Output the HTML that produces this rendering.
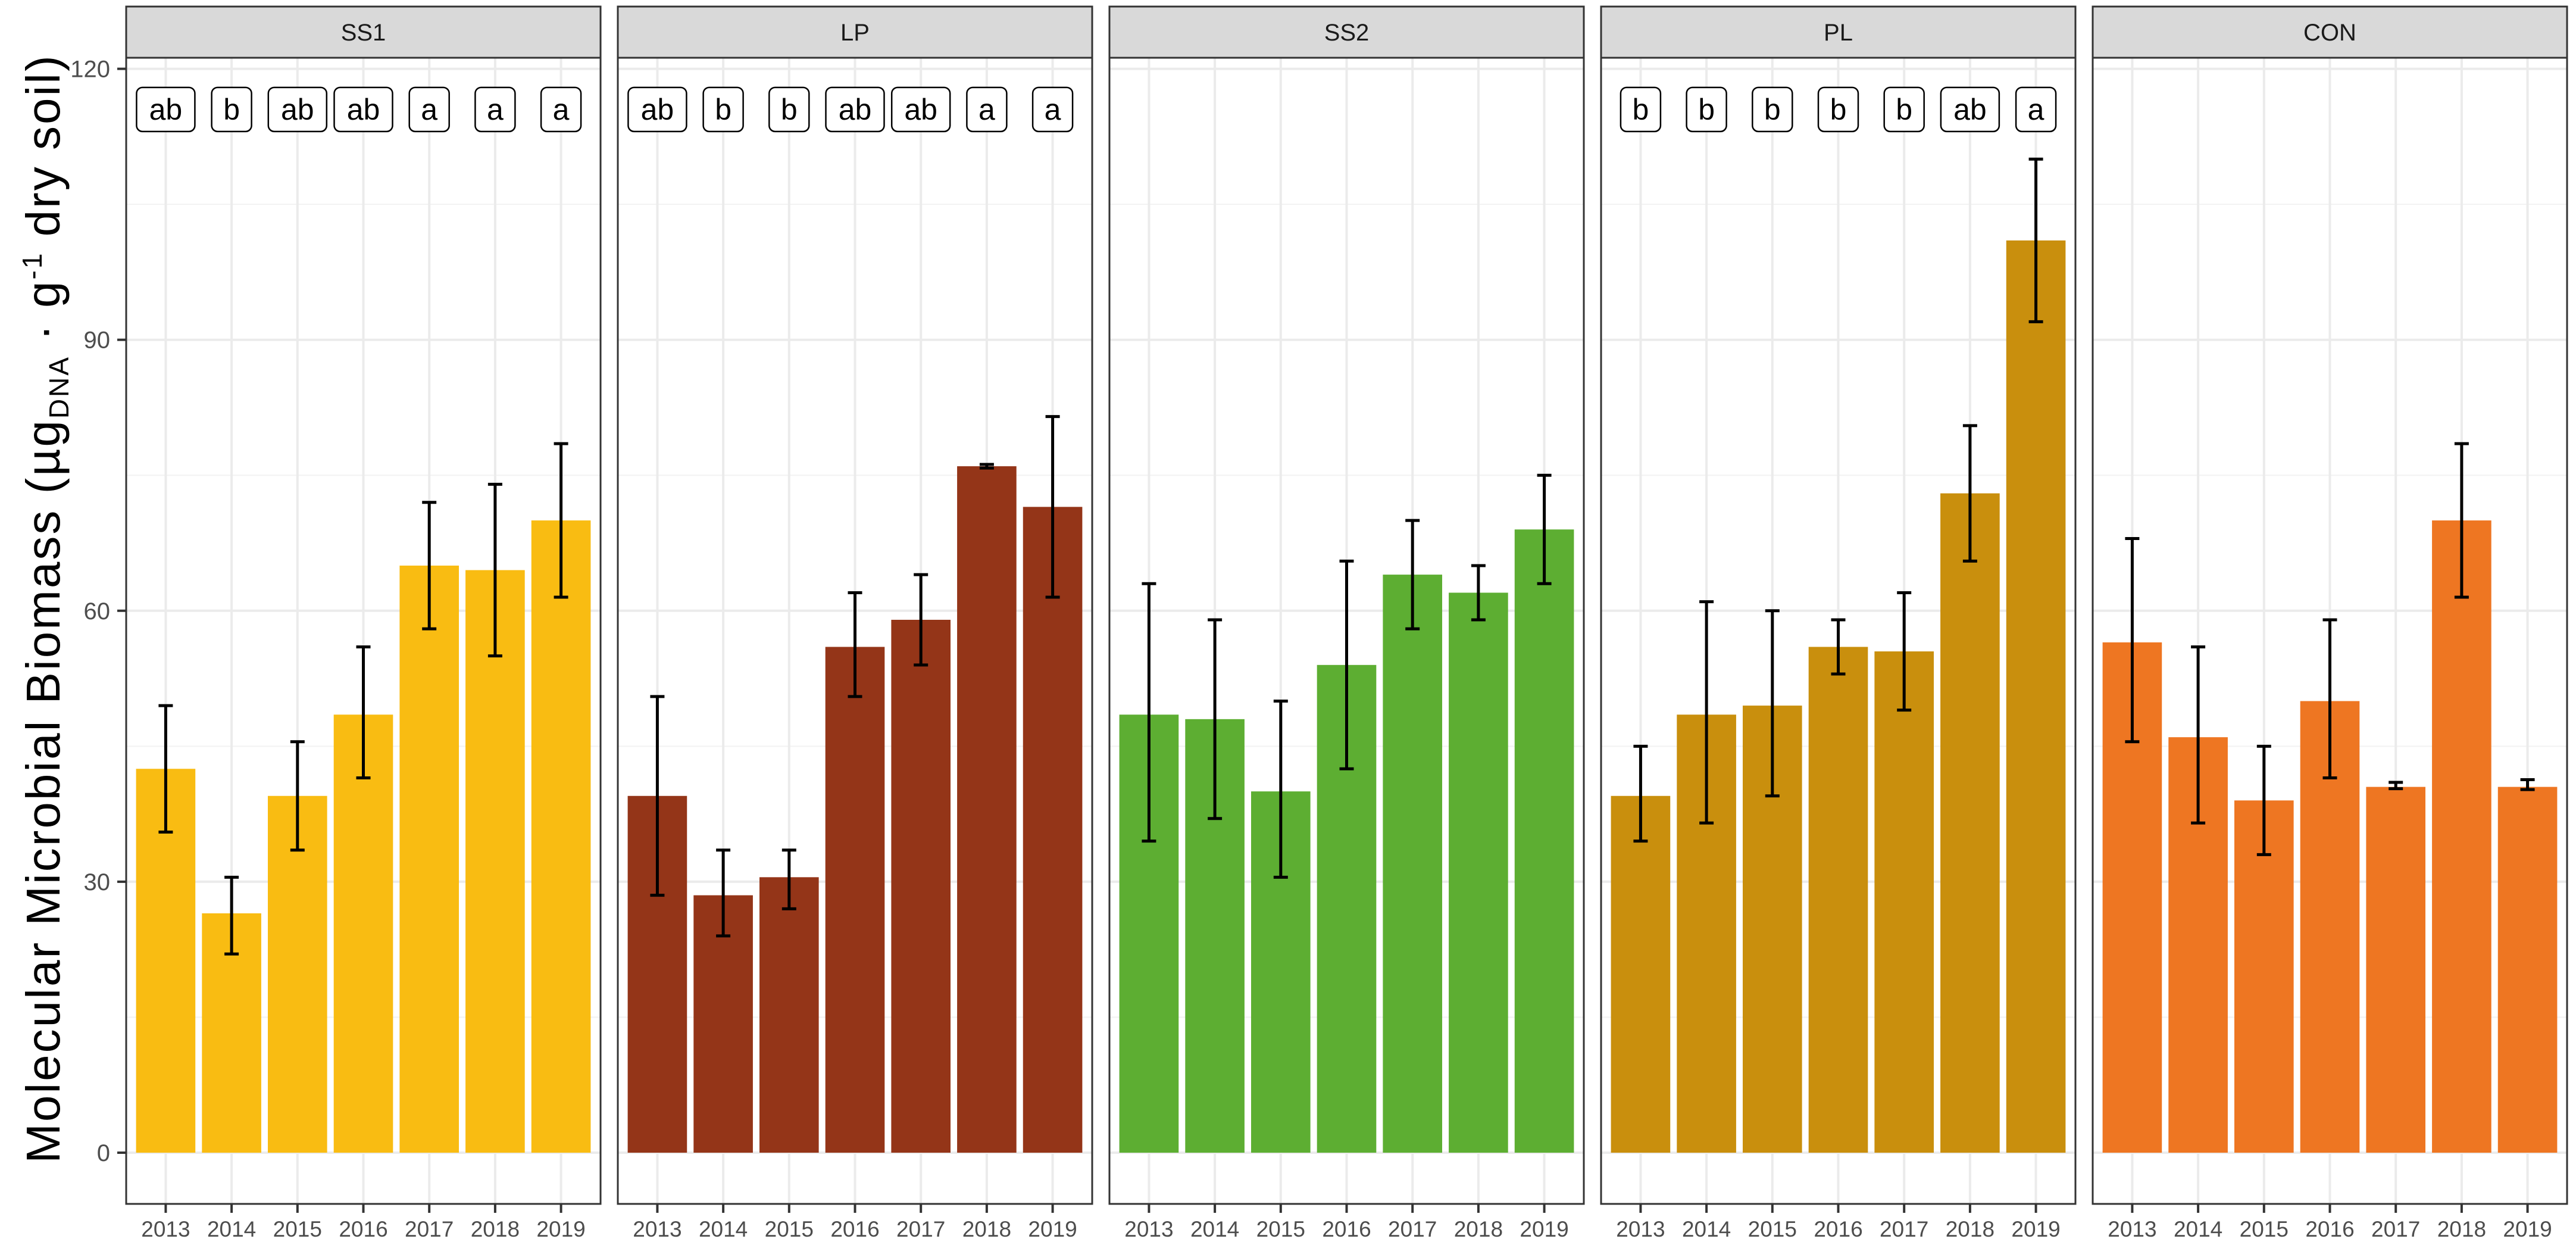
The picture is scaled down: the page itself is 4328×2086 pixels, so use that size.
<!DOCTYPE html>
<html><head><meta charset="utf-8"><style>
html,body{margin:0;padding:0;background:#fff;}
svg{display:block;font-family:"Liberation Sans",sans-serif;}
</style></head><body>
<svg id="chart" width="4328" height="2086" viewBox="0 0 4328 2086" xmlns="http://www.w3.org/2000/svg">
<g id="root"></g>
</svg>
<script>
const panels = ["SS1","LP","SS2","PL","CON"];
const years = ["2013","2014","2015","2016","2017","2018","2019"];
const colors = ["#F9BC12","#943518","#5DAE32","#C98F0D","#EE7622"];
const meansSS1 = [42.5,26.5,39.5,48.5,65,64.5,70];
const meansLP  = [39.5,28.5,30.5,56,59,76,71.5];
const meansSS2 = [48.5,48,40,54,64,62,69];
const meansPL  = [39.5,48.5,49.5,56,55.5,73,101];
const meansCON = [56.5,46,39,50,40.5,70,40.5];
const lowSS1 = [35.5,22,33.5,41.5,58,55,61.5];
const highSS1 = [49.5,30.5,45.5,56,72,74,78.5];
const lowLP = [28.5,24,27,50.5,54,75.8,61.5];
const highLP = [50.5,33.5,33.5,62,64,76.2,81.5];
const lowSS2 = [34.5,37,30.5,42.5,58,59,63];
const highSS2 = [63,59,50,65.5,70,65,75];
const lowPL = [34.5,36.5,39.5,53,49,65.5,92];
const highPL = [45,61,60,59,62,80.5,110];
const lowCON = [45.5,36.5,33,41.5,40.3,61.5,40.2];
const highCON = [68,56,45,59,41,78.5,41.3];
const lettersSS1 = ["ab","b","ab","ab","a","a","a"];
const lettersLP = ["ab","b","b","ab","ab","a","a"];
const lettersSS2 = [];
const lettersPL = ["b","b","b","b","b","ab","a"];
const lettersCON = [];
const yTicks = [0,30,60,90,120];
const yMinor = [15,45,75,105];
const letterY = 115.5;

const means=[meansSS1,meansLP,meansSS2,meansPL,meansCON];
const lows=[lowSS1,lowLP,lowSS2,lowPL,lowCON];
const highs=[highSS1,highLP,highSS2,highPL,highCON];
const letters=[lettersSS1,lettersLP,lettersSS2,lettersPL,lettersCON];

const NS="http://www.w3.org/2000/svg";
const root=document.getElementById('root');
function mk(tag,attrs,parent){const e=document.createElementNS(NS,tag);for(const k in attrs)e.setAttribute(k,attrs[k]);(parent||root).appendChild(e);return e;}

const plotTop=97, plotBottom=2022, stripTop=11;
const panelLeft0=212, panelW=797, panelGap=29;
function y(v){return 1936 - v*15.17;}
function px(p){return panelLeft0 + p*(panelW+panelGap);}
const unit=panelW/7.2;
function x(p,i){return px(p)+ (0.6+i)*unit;}

panels.forEach((name,p)=>{
  const g=mk('g',{});
  
  
  const L=px(p);
  mk('rect',{x:L,y:plotTop,width:panelW,height:plotBottom-plotTop,fill:'#fff'},g);
  yMinor.forEach(v=>{const l=mk('line',{x1:L,x2:L+panelW,y1:y(v),y2:y(v),stroke:'#F2F2F2','stroke-width':2},g);
    
    });
  yTicks.forEach(v=>{const l=mk('line',{x1:L,x2:L+panelW,y1:y(v),y2:y(v),stroke:'#EBEBEB','stroke-width':4},g);
    
    });
  years.forEach((yr,i)=>{const l=mk('line',{x1:x(p,i),x2:x(p,i),y1:plotTop,y2:plotBottom,stroke:'#EBEBEB','stroke-width':4},g);
    
    });
  years.forEach((yr,i)=>{
    const v=means[p][i];const bw=unit*0.9;
    const b=mk('rect',{x:x(p,i)-bw/2,y:y(v),width:bw,height:y(0)-y(v),fill:colors[p]},g);
    
    
  });
  years.forEach((yr,i)=>{
    const eg=mk('g',{stroke:'#000','stroke-width':5,fill:'none'},g);
    
    
    const cx=x(p,i),lo=y(lows[p][i]),hi=y(highs[p][i]);
    mk('line',{x1:cx,x2:cx,y1:lo,y2:hi},eg);
    mk('line',{x1:cx-12,x2:cx+12,y1:lo,y2:lo},eg);
    mk('line',{x1:cx-12,x2:cx+12,y1:hi,y2:hi},eg);
  });
  letters[p].forEach((t,i)=>{
    const lg=mk('g',{},g);
    
    
    const w=t.length>1?98:67;const cy=y(letterY);
    mk('rect',{x:x(p,i)-w/2,y:cy-37,width:w,height:74,rx:10,fill:'#fff',stroke:'#000','stroke-width':2.5},lg);
    const tx=mk('text',{x:x(p,i),y:cy+17,'text-anchor':'middle','font-size':50,fill:'#000'},lg);
    tx.textContent=t;
  });
  const border=mk('rect',{x:L,y:plotTop,width:panelW,height:plotBottom-plotTop,fill:'none',stroke:'#333','stroke-width':3},g);
  
  
  const sg=mk('g',{},g);
  
  
  mk('rect',{x:L,y:stripTop,width:panelW,height:plotTop-stripTop,fill:'#D9D9D9',stroke:'#333','stroke-width':3},sg);
  const st=mk('text',{x:L+panelW/2,y:68,'text-anchor':'middle','font-size':40,fill:'#1A1A1A'},sg);
  st.textContent=name;
  years.forEach((yr,i)=>{
    mk('line',{x1:x(p,i),x2:x(p,i),y1:plotBottom,y2:plotBottom+15,stroke:'#333','stroke-width':4},g);
    const t=mk('text',{x:x(p,i),y:2077,'text-anchor':'middle','font-size':37,fill:'#4D4D4D'},g);
    
    
    t.textContent=yr;
  });
});
yTicks.forEach(v=>{
  mk('line',{x1:197,x2:212,y1:y(v),y2:y(v),stroke:'#333','stroke-width':4});
  const t=mk('text',{x:185,y:y(v)+14,'text-anchor':'end','font-size':40,fill:'#4D4D4D'});
  
  
  t.textContent=v;
});
</script>
<div style="position:absolute;left:0;top:0;width:4328px;height:2086px;pointer-events:none">
<svg width="4328" height="2086" style="position:absolute;left:0;top:0">
<text transform="translate(100,1022) rotate(-90)" text-anchor="middle" font-family="Liberation Sans, sans-serif" font-size="80" letter-spacing="3" fill="#000">Molecular Microbial  Biomass (µg<tspan font-size="46" dy="15">DNA</tspan><tspan dy="-15"> · g</tspan><tspan font-size="46" dy="-30">-1</tspan><tspan dy="30"> dry soil)</tspan></text>
</svg></div>
</body></html>
